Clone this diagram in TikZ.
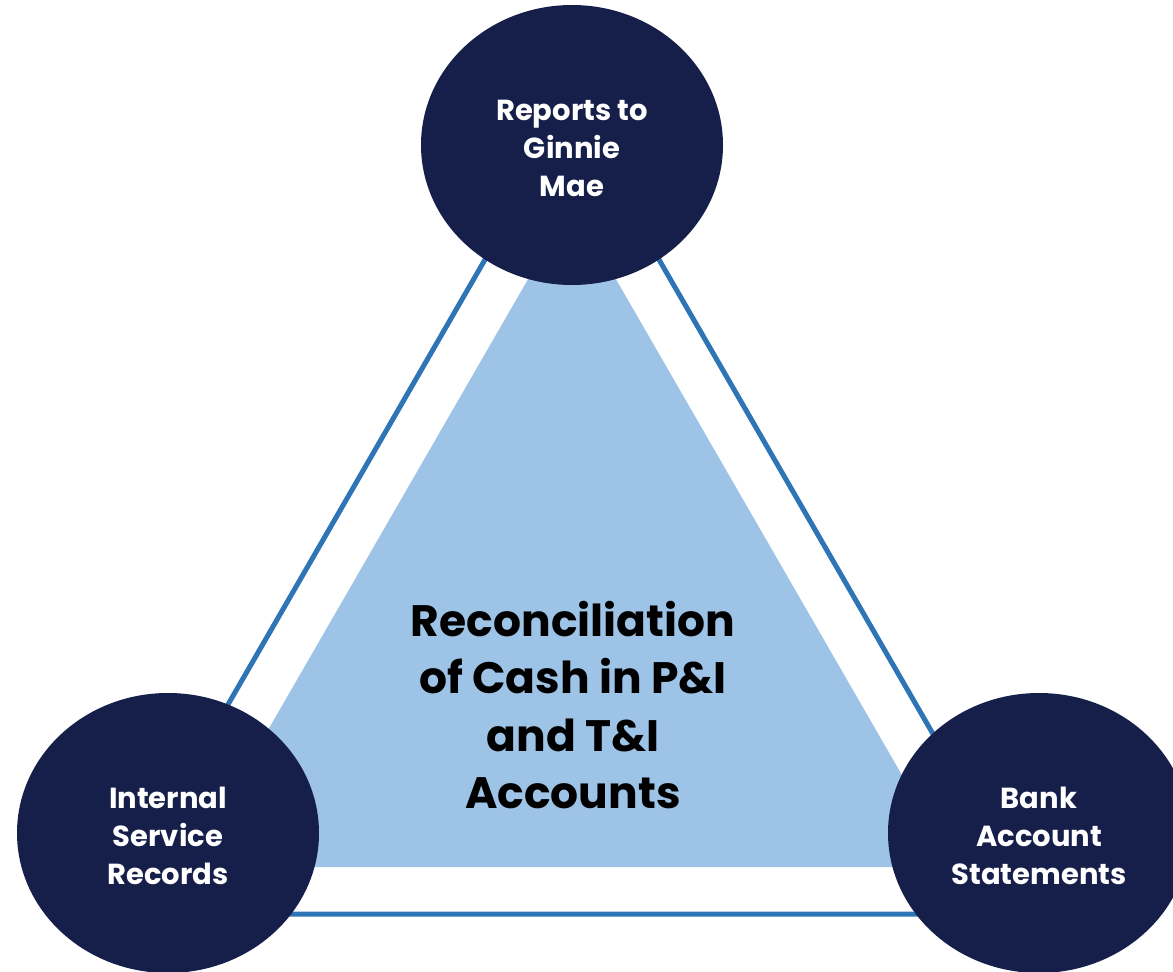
\documentclass[tikz,border=0pt]{standalone}
\usepackage{fontspec}
\setmainfont{Poppins}
\usetikzlibrary{shapes.geometric}
\definecolor{navy}{HTML}{151F4A}
\definecolor{paleblue}{HTML}{9DC3E6}
\definecolor{edgeblue}{HTML}{2E75B6}
\tikzset{
  hub/.style={ellipse, fill=navy, minimum width=302pt, minimum height=280pt,
    inner sep=0pt},
  hubtext/.style={text=white, align=center, yshift=-3pt,
    font=\fontsize{29}{38}\selectfont\bfseries},
  core/.style={align=center, text=black, font=\fontsize{44}{57.5}\selectfont\bfseries},
  rim/.style={draw=edgeblue, line width=5pt, line join=miter}
}
\begin{document}
\begin{tikzpicture}[x=1pt, y=-1pt]
  \useasboundingbox (0,0) rectangle (1173,972);
  % outer outline triangle
  \coordinate (oa) at (572,109);
  \coordinate (ob) at (107,914);
  \coordinate (oc) at (1037,914);
  \draw[rim] (oa) -- (ob) -- (oc) -- cycle;
  % inner filled triangle
  \coordinate (ia) at (572,203);
  \coordinate (ib) at (189,867);
  \coordinate (ic) at (955,867);
  \fill[paleblue] (ia) -- (ib) -- (ic) -- cycle;
  % three source circles with their captions
  \node[hub, label={[hubtext]center:Reports to\\Ginnie\\Mae}] (gin) at (572,145) {};
  \node[hub, label={[hubtext]center:Internal\\Service\\Records}] (isr) at (168,833) {};
  \node[hub, label={[hubtext]center:Bank\\Account\\Statements}] (bank) at (1039,833) {};
  % central label
  \node[core] (rec) at (573,705) {Reconciliation\\of Cash in P\&I\\and T\&I\\Accounts};
\end{tikzpicture}
\end{document}
